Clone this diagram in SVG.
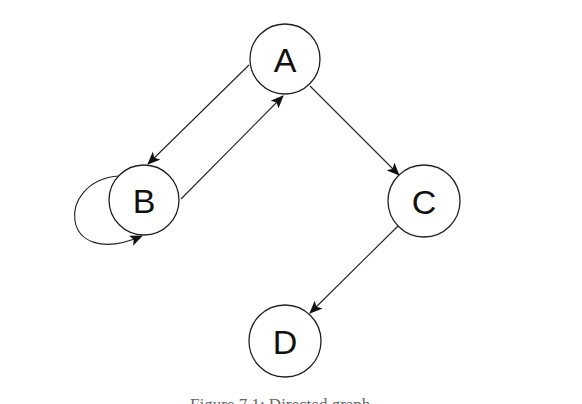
<svg xmlns="http://www.w3.org/2000/svg" width="582" height="404" viewBox="0 0 582 404">
<style>
.node circle{fill:#fff;stroke:#222;stroke-width:1.3}
.node text{font-family:"Liberation Sans",Arial,sans-serif;font-size:34px;fill:#111;text-anchor:middle;dominant-baseline:central}
.edge{fill:none;stroke:#222;stroke-width:1.1;marker-end:url(#ah)}
.cap{font-family:"Liberation Serif","Times New Roman",serif;font-size:17px;fill:#666}
</style>
<defs>
<marker id="ah" viewBox="0 0 13 11" refX="12" refY="5.5" markerWidth="13" markerHeight="11" markerUnits="userSpaceOnUse" orient="auto">
<path d="M0,0 L13,5.5 L0,11 L3,5.5 Z" fill="#111"/>
</marker>
</defs>
<rect width="582" height="404" fill="#fff"/>
<g id="edges">
<path class="edge" d="M249,65 L148,164"/>
<path class="edge" d="M181,199 L283,96"/>
<path class="edge" d="M310,86 L399,175"/>
<path class="edge" d="M398,226 L310,313"/>
<path class="edge" d="M119,176 C55,180 58,272 142,236"/>
</g>
<g id="A" class="node"><circle cx="285" cy="59" r="35"/><text x="285" y="60">A</text></g>
<g id="B" class="node"><circle cx="144" cy="200" r="35"/><text x="144" y="201">B</text></g>
<g id="C" class="node"><circle cx="424" cy="201" r="36"/><text x="424" y="202">C</text></g>
<g id="D" class="node"><circle cx="285" cy="341" r="36"/><text x="285" y="342">D</text></g>
<text class="cap" x="190" y="410">Figure 7.1: Directed graph</text>
</svg>
